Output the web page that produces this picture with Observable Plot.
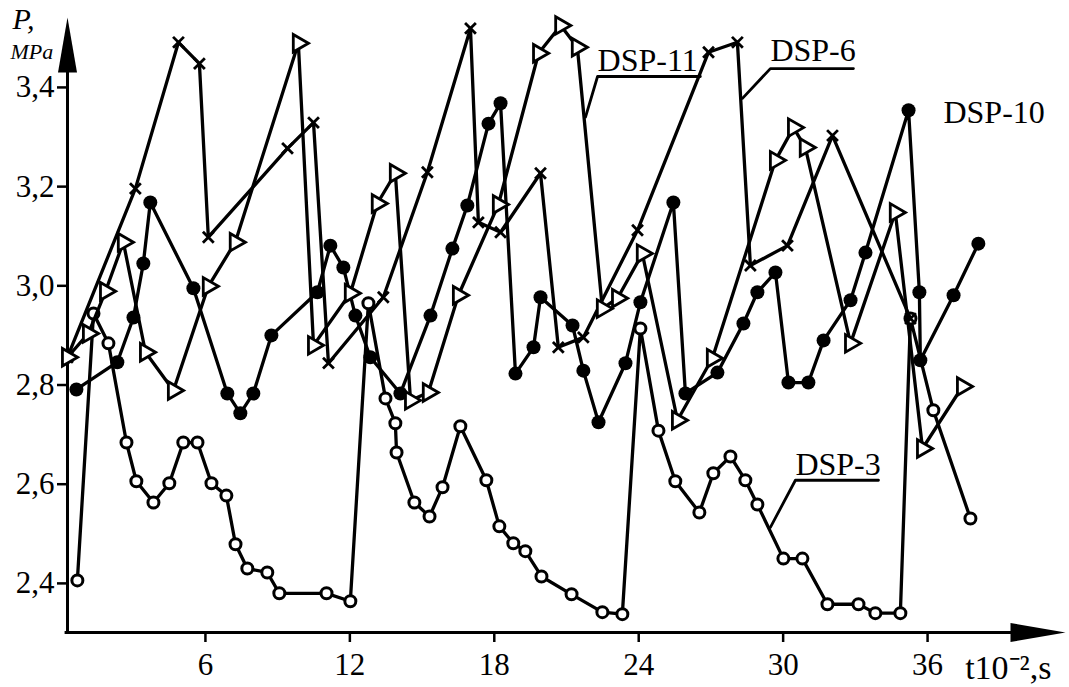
<!DOCTYPE html>
<html><head><meta charset="utf-8">
<script src="https://cdn.jsdelivr.net/npm/d3@7"></script>
<script src="https://cdn.jsdelivr.net/npm/@observablehq/plot@0.6"></script>
<style>body{margin:0;background:#fff} svg{display:block} svg text{font-family:"Liberation Serif","Times New Roman",serif !important}</style>
</head><body><div id="chart"></div>
<script>
// ---- data (t in 10^-2 s, P in MPa) ----
const dsp3T = [0.68,1.35,1.97,2.72,3.13,3.84,4.50,5.08,5.67,6.25,6.87,7.25,7.74,8.57,9.07,11.03,12.02,12.77,13.48,13.89,13.94,14.68,15.31,15.85,16.59,17.67,18.21,18.79,19.29,19.96,21.21,22.49,23.32,24.07,24.82,25.52,26.52,27.10,27.81,28.43,28.93,30.01,30.80,31.84,33.13,33.83,34.87,35.29,36.24,37.78];
const dsp3P = [2.406,2.944,2.884,2.684,2.606,2.563,2.602,2.684,2.684,2.602,2.577,2.479,2.430,2.422,2.380,2.380,2.364,2.965,2.773,2.723,2.664,2.563,2.535,2.594,2.717,2.608,2.515,2.481,2.465,2.414,2.378,2.342,2.338,2.914,2.708,2.606,2.543,2.622,2.656,2.608,2.559,2.450,2.450,2.358,2.358,2.340,2.340,2.934,2.749,2.531];

const dsp10T = [0.64,2.34,3.01,3.42,3.71,5.50,6.91,7.45,7.99,8.74,10.65,11.19,11.73,12.23,12.85,14.10,15.35,16.26,16.88,17.76,18.26,18.88,19.63,19.92,21.25,21.70,22.33,23.45,24.07,25.44,25.94,27.27,28.35,28.93,29.68,30.22,31.05,31.68,32.80,33.42,35.21,35.66,35.70,37.08,38.11];
const dsp10P = [2.791,2.846,2.936,3.045,3.168,2.995,2.783,2.743,2.783,2.900,2.987,3.081,3.037,2.940,2.856,2.783,2.940,3.075,3.162,3.327,3.368,2.823,2.876,2.977,2.920,2.829,2.725,2.844,2.967,3.168,2.783,2.825,2.924,2.987,3.027,2.805,2.805,2.890,2.971,3.067,3.354,2.987,2.850,2.981,3.085];

const dsp6T = [0.27,3.09,4.88,5.75,6.12,9.41,10.49,11.11,13.39,15.22,17.01,17.34,18.26,19.92,20.66,21.70,23.95,26.90,28.10,28.64,30.18,32.05,35.29];
const dsp6P = [2.856,3.196,3.491,3.448,3.098,3.277,3.329,2.844,2.977,3.229,3.519,3.128,3.108,3.227,2.876,2.896,3.112,3.471,3.491,3.041,3.081,3.303,2.934];

const dsp11T = [0.27,1.14,1.85,2.59,3.51,4.67,6.12,7.24,9.86,10.49,12.02,13.14,13.89,14.52,15.26,16.51,18.17,19.84,20.76,21.45,22.49,23.12,24.15,25.61,27.06,29.68,30.43,30.92,32.80,34.66,35.79,37.45];
const dsp11P = [2.856,2.904,2.989,3.088,2.866,2.789,2.999,3.088,3.489,2.880,2.985,3.166,3.227,2.769,2.785,2.981,3.164,3.469,3.525,3.481,2.954,2.975,3.065,2.729,2.854,3.253,3.319,3.279,2.884,3.148,2.672,2.797];

// axis ticks
const xTickValues = [6,12,18,24,30,36];
const xTickLabels = ["6","12","18","24","30","36"];
const yTickValues = [2.4,2.6,2.8,3.0,3.2,3.4];
const yTickLabels = ["2,4","2,6","2,8","3,0","3,2","3,4"];

// series labels
const labelNames = ["DSP-11","DSP-6","DSP-10","DSP-3"];
const labelT = [22.29,29.47,36.66,30.51];
const labelP = [3.434,3.454,3.329,2.618];

// leader lines (tip -> underline start -> underline end)
const leaderSeries = ["DSP-11","DSP-11","DSP-11","DSP-6","DSP-6","DSP-6","DSP-3","DSP-3","DSP-3"];
const leaderT = [21.79,22.29,26.56,28.31,29.47,32.92,29.47,30.51,33.96];
const leaderP = [3.340,3.422,3.422,3.378,3.438,3.438,2.513,2.608,2.608];

const xDomain = [0.27, 41.73];
const yDomain = [2.301, 3.541];

// ---- build tables ----
const toRows = (T, P) => T.map((t, i) => ({t, p: P[i]}));
const s3 = toRows(dsp3T, dsp3P);
const s10 = toRows(dsp10T, dsp10P);
const s6 = toRows(dsp6T, dsp6P);
const s11 = toRows(dsp11T, dsp11P);
const labels = labelNames.map((name, i) => ({name, t: labelT[i], p: labelP[i]}));
const leaders = leaderSeries.map((s, i) => ({s, t: leaderT[i], p: leaderP[i]}));

const arrowUp = {draw(ctx) { ctx.moveTo(0, 0); ctx.lineTo(9.5, 55); ctx.lineTo(-9.5, 55); ctx.closePath(); }};
const arrowRight = {draw(ctx) { ctx.moveTo(0, 0); ctx.lineTo(-55, -9.5); ctx.lineTo(-55, 9.5); ctx.closePath(); }};

const font = "Liberation Serif, Times New Roman, serif";
const lw = 3.3;

const chart = Plot.plot({
  width: 1069,
  height: 687,
  marginLeft: 67,
  marginRight: 4,
  marginTop: 17,
  marginBottom: 55,
  x: {domain: xDomain, axis: null},
  y: {domain: yDomain, axis: null},
  style: {fontFamily: font, background: "#fff", color: "#000"},
  marks: [
    // axes
    Plot.ruleY([yDomain[0]], {x1: xDomain[0] - 0.1, x2: xDomain[1] - 1, stroke: "#000", strokeWidth: 3}),
    Plot.ruleX([xDomain[0]], {y1: yDomain[0], y2: yDomain[1] - 0.05, stroke: "#000", strokeWidth: 3}),
    Plot.dot([{t: xDomain[0], p: yDomain[1]}], {x: "t", y: "p", r: 1, symbol: arrowUp, fill: "#000", stroke: "none"}),
    Plot.dot([{t: xDomain[1], p: yDomain[0]}], {x: "t", y: "p", r: 1, symbol: arrowRight, fill: "#000", stroke: "none"}),
    Plot.axisX(xTickValues, {anchor: "bottom", tickSize: 10, tickPadding: 10, strokeWidth: 2.5,
      tickFormat: d => xTickLabels[xTickValues.indexOf(d)], fontSize: 31, fontFamily: font, label: null}),
    Plot.axisY(yTickValues, {anchor: "left", tickSize: 10, tickPadding: 3, strokeWidth: 2.5,
      tickFormat: d => yTickLabels[yTickValues.indexOf(d)], fontSize: 31, fontFamily: font, label: null}),
    Plot.text(["P,"], {frameAnchor: "top-left", dx: -55, dy: 11, textAnchor: "start", lineAnchor: "bottom",
      fontSize: 30, fontStyle: "italic", fontFamily: font}),
    Plot.text(["MPa"], {frameAnchor: "top-left", dx: -57, dy: 41, textAnchor: "start", lineAnchor: "bottom",
      fontSize: 22, fontStyle: "italic", fontFamily: font}),
    Plot.text(["t10\u207B\u00B2,s"], {frameAnchor: "bottom-right", dx: -14, dy: 46, textAnchor: "end", lineAnchor: "bottom",
      fontSize: 34, fontFamily: font}),

    // DSP-3: open circles
    Plot.line(s3, {x: "t", y: "p", stroke: "#000", strokeWidth: lw}),
    Plot.dot(s3, {x: "t", y: "p", r: 5.5, fill: "#fff", stroke: "#000", strokeWidth: 3}),
    // DSP-10: filled circles
    Plot.line(s10, {x: "t", y: "p", stroke: "#000", strokeWidth: lw}),
    Plot.dot(s10, {x: "t", y: "p", r: 7, fill: "#000", stroke: "none"}),
    // DSP-6: crosses
    Plot.line(s6, {x: "t", y: "p", stroke: "#000", strokeWidth: lw}),
    Plot.dot(s6, {x: "t", y: "p", r: 5, symbol: "times", stroke: "#000", strokeWidth: 2.8}),
    // DSP-11: open triangles
    Plot.line(s11, {x: "t", y: "p", stroke: "#000", strokeWidth: lw}),
    Plot.dot(s11, {x: "t", y: "p", r: 6.5, symbol: "triangle", rotate: 90, fill: "#fff", stroke: "#000", strokeWidth: 2.8}),

    // labels
    Plot.line(leaders, {x: "t", y: "p", z: "s", stroke: "#000", strokeWidth: 2.8}),
    Plot.text(labels, {x: "t", y: "p", text: "name", textAnchor: "start", lineAnchor: "bottom", fontSize: 32, fontFamily: font})
  ]
});
document.getElementById("chart").appendChild(chart);
</script>
</body></html>
